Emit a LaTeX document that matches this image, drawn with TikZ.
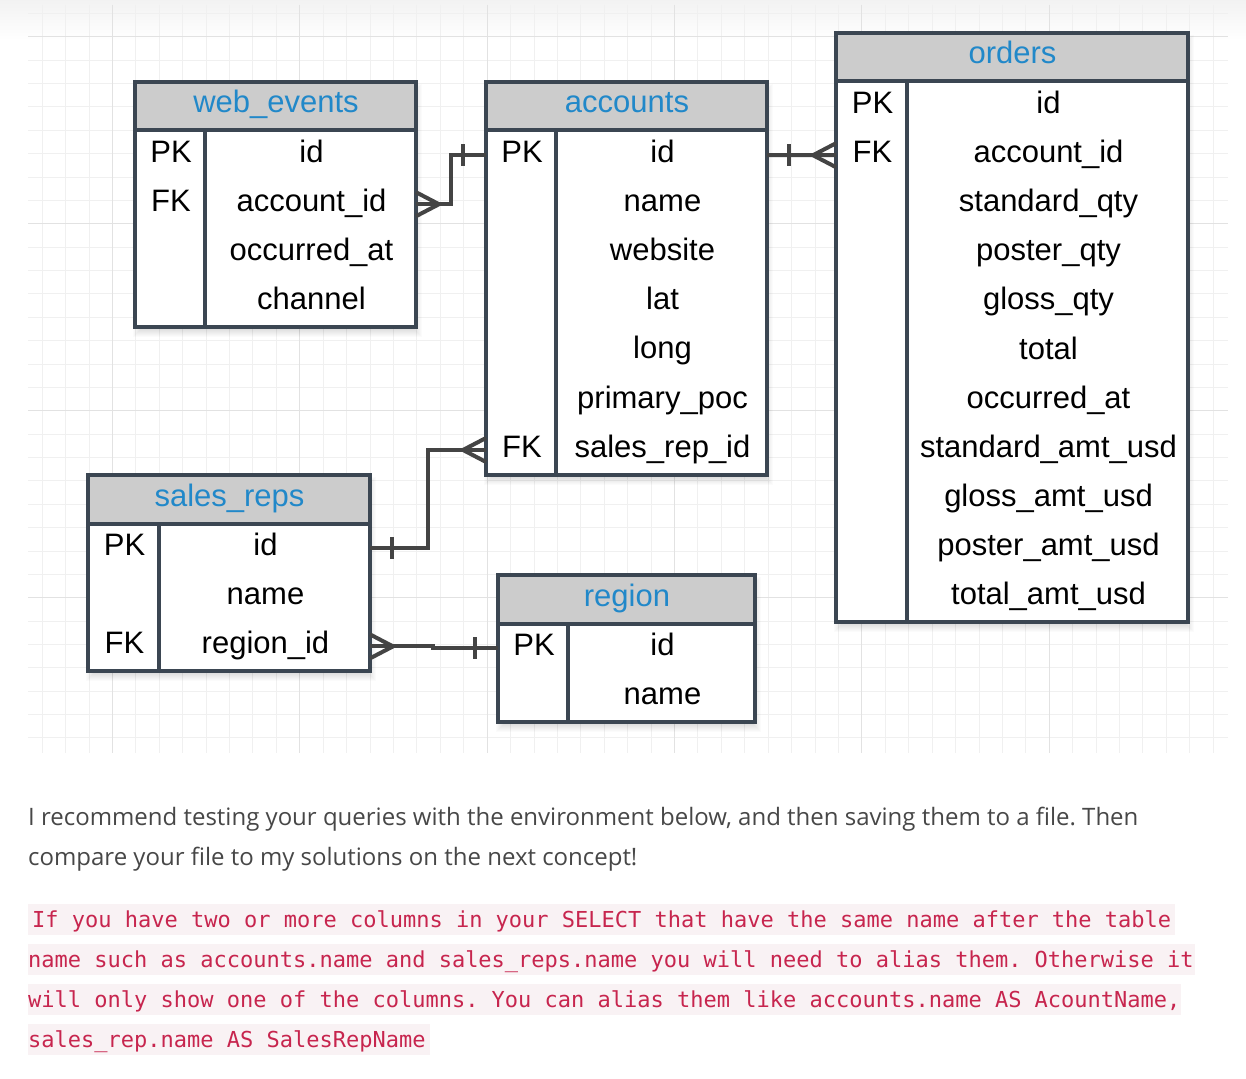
\documentclass[tikz,border=0pt]{standalone}
\usepackage{fontspec}
\setmainfont{Liberation Sans}
\newfontfamily\bodyfont{Open Sans}
\newfontfamily\codefont{DejaVu Sans Mono}
\frenchspacing
\definecolor{bordercol}{HTML}{3B4652}
\definecolor{headgray}{HTML}{CCCCCC}
\definecolor{titleblue}{HTML}{2188C9}
\definecolor{connline}{HTML}{444444}
\definecolor{gridminor}{HTML}{F0F0F0}
\definecolor{gridmajor}{HTML}{E2E2E2}
\definecolor{bodytext}{HTML}{474747}
\definecolor{codered}{HTML}{C7254E}
\definecolor{codebg}{HTML}{F9F2F4}
\tikzset{
  tborder/.style={draw=bordercol, line width=4pt},
  celltext/.style={anchor=base, inner sep=0pt, font=\fontsize{31}{37}\selectfont, text=black},
  titletext/.style={anchor=base, inner sep=0pt, font=\fontsize{31}{37}\selectfont, text=titleblue},
  rowcell/.style={inner sep=0pt, outer sep=0pt, minimum height=49pt},
  conn/.style={draw=connline, line width=4pt},
  bodyline/.style={anchor=base west, inner sep=0pt, font=\bodyfont\fontsize{24}{28}\selectfont\frenchspacing, text=bodytext},
  codeline/.style={anchor=base west, inner sep=0pt, font=\codefont\fontsize{22}{26}\selectfont\frenchspacing, text=codered},
  crowright/.pic={\draw[conn] (0,-12) -- (23,0) -- (0,12);},
  crowleft/.pic={\draw[conn] (0,-12) -- (-23,0) -- (0,12);},
  barright/.pic={\draw[conn] (22,-11) -- (22,11);},
  barleft/.pic={\draw[conn] (-23,-11) -- (-23,11);}
}
% #1 name, #2 title, #3 x1, #4 x2, #5 xk, #6 y1, #7 rows count, #8 rows
\newcommand\ertable[8]{%
  \pgfmathsetmacro\tya{#6}%
  \pgfmathsetmacro\tyb{#6+48.5}%
  \pgfmathsetmacro\tyc{#6+48.5+49.15*#7}%
  \foreach \s in {-3,...,4}{\fill[black,opacity=0.016] ({#3+2-\s},{\tya+6-\s}) rectangle ({#4+2+\s},{\tyc+6+\s});}
  \fill[white] (#3,\tya) rectangle (#4,\tyc);
  \fill[headgray] (#3,\tya) rectangle (#4,\tyb);
  \node[titletext] (#1-title) at ({(#3+#4)/2+0.5},{\tya+31}) {#2};
  \foreach \k/\f [count=\i] in {#8}{%
    \node[rowcell, minimum width={#4-#3}] (#1-\i) at ({(#3+#4)/2},{\tyb+49.15*(\i-0.5)}) {};
    \node[celltext] (#1-\i-key) at ({(#3+#5)/2+1},{\tyb+49.15*(\i-1)+31.8}) {\k};
    \node[celltext] (#1-\i-field) at ({(#5+#4)/2+1},{\tyb+49.15*(\i-1)+31.8}) {\f};
  }
  \draw[tborder] (#3,\tyb) -- (#4,\tyb);
  \draw[tborder] (#5,\tyb) -- (#5,\tyc);
  \draw[tborder] (#3,\tya) rectangle (#4,\tyc);
}
\begin{document}
\begin{tikzpicture}[x=1pt,y=-1pt]
\useasboundingbox (0,0) rectangle (1246,1078);
\fill[white] (0,0) rectangle (1246,1078);
\shade[top color=black!5, bottom color=white] (0,0) rectangle (1246,40);
% grid
\foreach \k in {0,...,50}{\draw[gridminor, line width=1pt] ({42.2+23.42*\k},5) -- ({42.2+23.42*\k},752.5);}
\foreach \k in {0,...,31}{\draw[gridminor, line width=1pt] (28,{13.5+23.37*\k}) -- (1228,{13.5+23.37*\k});}
\foreach \k in {3,11,...,43}{\draw[gridmajor, line width=1pt] ({42.2+23.42*\k},5) -- ({42.2+23.42*\k},752.5);}
\foreach \k in {1,9,17,25}{\draw[gridmajor, line width=1pt] (28,{13.5+23.37*\k}) -- (1228,{13.5+23.37*\k});}
% tables
\ertable{we}{web\_events}{135}{416}{205}{82}{4}{PK/id, FK/account\_id, /occurred\_at, /channel}
\ertable{ac}{accounts}{486}{767}{556}{82}{7}{PK/id, /name, /website, /lat, /long, /primary\_poc, FK/sales\_rep\_id}
\ertable{or}{orders}{836}{1188}{907}{33}{11}{PK/id, FK/account\_id, /standard\_qty, /poster\_qty, /gloss\_qty, /total, /occurred\_at, /standard\_amt\_usd, /gloss\_amt\_usd, /poster\_amt\_usd, /total\_amt\_usd}
\ertable{sr}{sales\_reps}{88}{370}{159}{475}{3}{PK/id, /name, FK/region\_id}
\ertable{rg}{region}{498}{755}{568}{575}{2}{PK/id, /name}
% connectors
\draw[conn] (we-2.east) -- ++(35,0) |- (ac-1.west);
\pic at (we-2.east) {crowright};
\pic at (ac-1.west) {barleft};
\draw[conn] (ac-1.east) -- (or-2.west);
\pic at (ac-1.east) {barright};
\pic at (or-2.west) {crowleft};
\draw[conn] (sr-1.east) -- ++(58,0) |- (ac-7.west);
\pic at (sr-1.east) {barright};
\pic at (ac-7.west) {crowleft};
\draw[conn] (sr-3.east) -- ++(63,0) |- (rg-1.west);
\pic at (sr-3.east) {crowright};
\pic at (rg-1.west) {barleft};
% text below
\node[bodyline] (p1) at (28,825) {I recommend testing your queries with the environment below, and then saving them to a file. Then};
\node[bodyline] (p2) at (28,865) {compare your file to my solutions on the next concept!};
\fill[codebg] (28,904) rectangle (1175,935);
\fill[codebg] (28,944) rectangle (1195,975);
\fill[codebg] (28,984) rectangle (1181,1015);
\fill[codebg] (28,1024) rectangle (430,1055);
\node[codeline] (c1) at (32,927) {If you have two or more columns in your SELECT that have the same name after the table};
\node[codeline] (c2) at (28,967) {name such as accounts.name and sales\_reps.name you will need to alias them. Otherwise it};
\node[codeline] (c3) at (28,1007) {will only show one of the columns. You can alias them like accounts.name AS AcountName,};
\node[codeline] (c4) at (28,1047) {sales\_rep.name AS SalesRepName};
\end{tikzpicture}
\end{document}
